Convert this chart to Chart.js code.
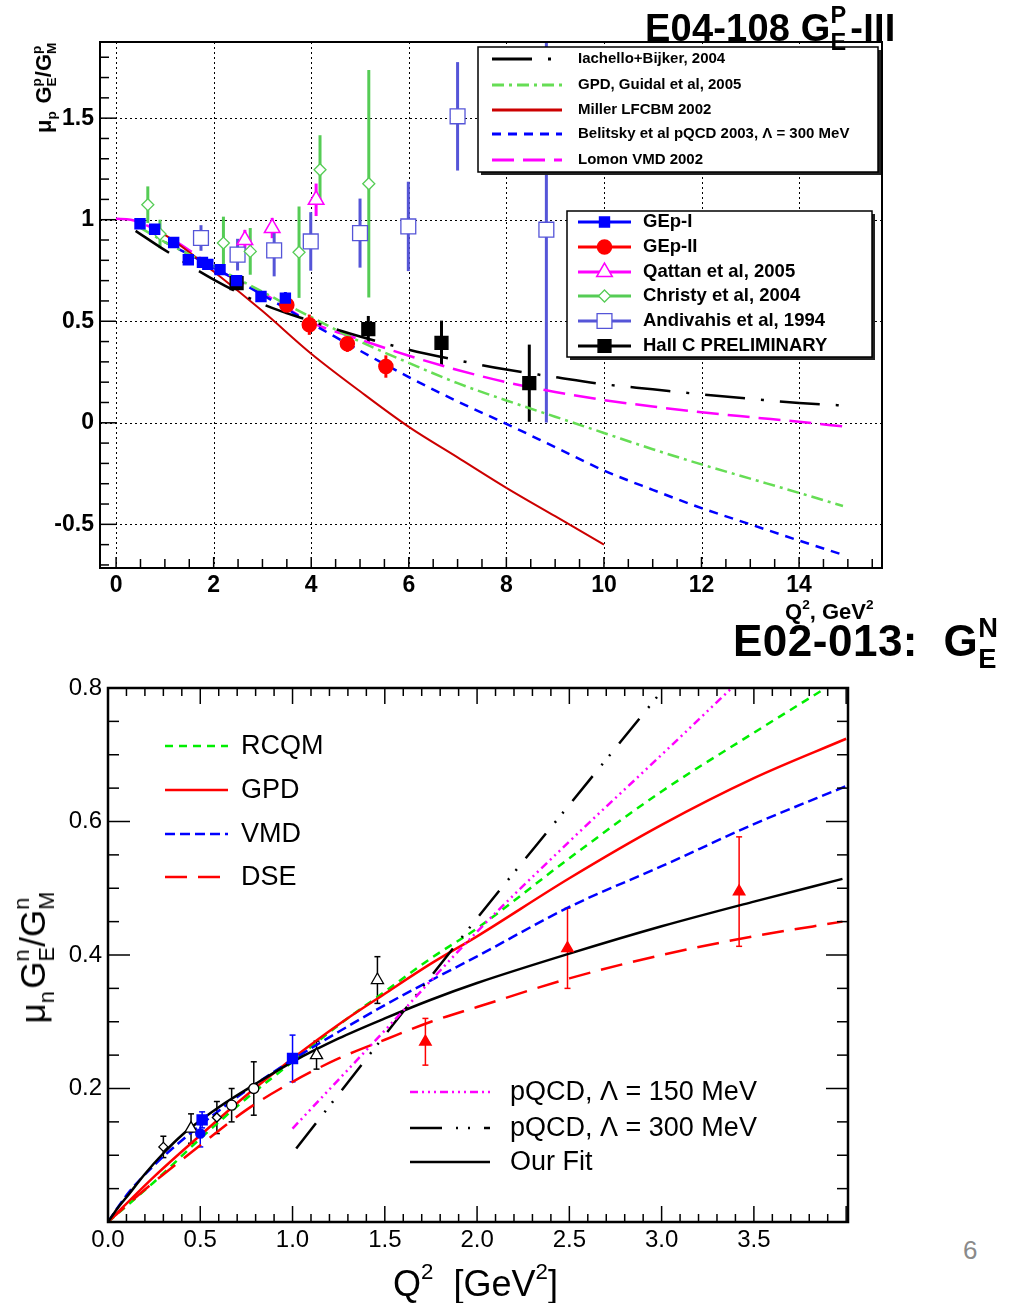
<!DOCTYPE html>
<html><head><meta charset="utf-8">
<script src="https://cdn.jsdelivr.net/npm/chart.js@4/dist/chart.umd.min.js"></script>
<style>
html,body{margin:0;padding:0;background:#fff}
body{width:1015px;height:1303px;position:relative;overflow:hidden;font-family:'Liberation Sans',Arial,Helvetica,sans-serif;color:#000}
canvas{position:absolute;left:0}
#c1{top:0}
#c2{top:650px}
.t{position:absolute;white-space:nowrap;line-height:1}
.rot{transform:translate(-50%,-50%) rotate(-90deg)}
.ss{display:inline-block;position:relative;height:0;vertical-align:baseline}
.ss .a,.ss .b{position:absolute;left:0;font-size:.62em;line-height:1}
.ss .a{top:-1.55em}
.ss .b{top:-.42em}
.up{font-size:.62em;position:relative;top:-.75em}
</style></head><body>
<canvas id="c1" width="900" height="610"></canvas>
<canvas id="c2" width="900" height="653"></canvas>

<div class="t" style="left:645px;top:7px;font:bold 38px 'Liberation Sans Narrow','Arial Narrow',sans-serif;letter-spacing:.2px">E04-108 G<span class="ss" style="width:.52em"><span class="a">P</span><span class="b">E</span></span>-III</div>
<div class="t" style="left:785px;top:599px;font:bold 22px 'Liberation Sans Narrow','Arial Narrow',sans-serif">Q<span class="up">2</span>, GeV<span class="up">2</span></div>
<div class="t" style="left:733px;top:616px;font:bold 44px 'Liberation Sans Narrow','Arial Narrow',sans-serif;letter-spacing:.5px">E02-013:&nbsp; G<span class="ss" style="width:.45em"><span class="a">N</span><span class="b">E</span></span></div>
<div class="t rot" style="left:44px;top:88px;font:bold 22px 'Liberation Sans',Arial,sans-serif">μ<span class="ss" style="width:.45em"><span class="b">p</span></span> G<span class="ss" style="width:.42em"><span class="a">p</span><span class="b">E</span></span>/G<span class="ss" style="width:.5em"><span class="a">p</span><span class="b">M</span></span></div>
<div class="t rot" style="left:33px;top:957px;font:35px 'Liberation Sans',Arial,sans-serif">μ<span class="ss" style="width:.42em"><span class="b">n</span></span>G<span class="ss" style="width:.42em"><span class="a">n</span><span class="b">E</span></span>/G<span class="ss" style="width:.55em"><span class="a">n</span><span class="b">M</span></span></div>
<div class="t" style="left:393px;top:1263px;font:36px 'Liberation Sans',Arial,sans-serif">Q<span class="up">2</span>&nbsp; [GeV<span class="up">2</span>]</div>
<div class="t" style="left:963px;top:1235px;font:26px 'Liberation Sans',Arial,sans-serif;color:#8a8a8a">6</div>

<script>
// ================= TOP PANEL : mu_p GEp/GMp =================
const topXTicks = [0, 2, 4, 6, 8, 10, 12, 14];
const topYTicks = [-0.5, 0, 0.5, 1, 1.5];

// theory curves
const iachelloQ2 = [0.4, 1, 2, 3, 4, 5, 6, 7, 8, 9, 10, 11, 12, 13, 14, 14.9];
const iachelloR  = [0.945, 0.85, 0.705, 0.585, 0.50, 0.425, 0.36, 0.308, 0.262, 0.225, 0.19, 0.165, 0.14, 0.118, 0.098, 0.085];
const guidalQ2 = [0.5, 1, 2, 3, 4, 5, 6, 7, 8, 9, 10, 11, 12, 13, 14, 14.9];
const guidalR  = [0.96, 0.89, 0.77, 0.645, 0.52, 0.40, 0.295, 0.195, 0.11, 0.03, -0.05, -0.13, -0.205, -0.275, -0.345, -0.41];
const millerQ2 = [0.7, 1, 2, 3, 4, 5, 6, 7, 8, 9, 10];
const millerR  = [0.96, 0.925, 0.745, 0.55, 0.34, 0.155, -0.02, -0.17, -0.32, -0.46, -0.60];
const belitskyQ2 = [1, 2, 3, 4, 5, 6, 7, 8, 9, 10, 11, 12, 13, 14, 14.9];
const belitskyR  = [0.89, 0.765, 0.63, 0.49, 0.355, 0.225, 0.105, -0.005, -0.12, -0.235, -0.33, -0.42, -0.50, -0.58, -0.65];
const lomonQ2 = [0, 0.3, 0.6, 1, 1.5, 2, 3, 4, 5, 6, 7, 8, 9, 10, 11, 12, 13, 14, 14.9];
const lomonR  = [1.005, 1.0, 0.975, 0.925, 0.85, 0.765, 0.64, 0.495, 0.41, 0.33, 0.26, 0.20, 0.152, 0.112, 0.08, 0.052, 0.028, 0.005, -0.018];

// data
const gep1Q2  = [0.49, 0.79, 1.18, 1.48, 1.77, 1.88, 2.13, 2.47, 2.97, 3.47];
const gep1R   = [0.98, 0.953, 0.888, 0.803, 0.79, 0.78, 0.754, 0.70, 0.622, 0.614];
const gep1Err = [0.012, 0.012, 0.015, 0.015, 0.02, 0.02, 0.02, 0.02, 0.025, 0.03];
const gep2Q2  = [3.50, 3.96, 4.74, 5.53];
const gep2R   = [0.58, 0.483, 0.389, 0.277];
const gep2Err = [0.045, 0.05, 0.04, 0.055];
const qattanQ2  = [2.64, 3.20, 4.10];
const qattanR   = [0.90, 0.959, 1.098];
const qattanErr = [0.05, 0.05, 0.08];
const christyQ2  = [0.65, 0.90, 2.20, 2.75, 3.75, 4.18, 5.18];
const christyR   = [1.074, 0.93, 0.885, 0.844, 0.84, 1.246, 1.177];
const christyErr = [0.09, 0.07, 0.13, 0.115, 0.225, 0.17, 0.56];
const andivahisQ2  = [1.74, 2.49, 3.24, 3.99, 5.00, 5.99, 7.00, 8.82];
const andivahisR   = [0.91, 0.828, 0.849, 0.893, 0.934, 0.967, 1.509, 0.951];
const andivahisErr = [0.063, 0.078, 0.128, 0.144, 0.17, 0.22, 0.267, 0.95];
const hallcQ2  = [2.47, 5.17, 6.67, 8.47];
const hallcR   = [0.688, 0.461, 0.393, 0.195];
const hallcErr = [0.012, 0.065, 0.11, 0.19];

// ================= BOTTOM PANEL : mu_n GEn/GMn =================
const botXTicks = [0, 0.5, 1, 1.5, 2, 2.5, 3, 3.5];
const botYTicks = [0.2, 0.4, 0.6, 0.8];

const rcqmQ2 = [0, 0.25, 0.5, 0.75, 1.0, 1.25, 1.5, 1.75, 2.0, 2.5, 3.0, 3.5, 3.89];
const rcqmR  = [0, 0.06, 0.125, 0.185, 0.24, 0.295, 0.345, 0.395, 0.44, 0.545, 0.645, 0.733, 0.80];
const gpdQ2 = [0, 0.25, 0.5, 0.75, 1.0, 1.25, 1.5, 1.75, 2.0, 2.5, 3.0, 3.5, 4.0];
const gpdR  = [0, 0.068, 0.13, 0.19, 0.245, 0.296, 0.342, 0.387, 0.428, 0.515, 0.595, 0.665, 0.724];
const vmdQ2 = [0, 0.1, 0.25, 0.5, 0.75, 1.0, 1.25, 1.5, 1.75, 2.0, 2.5, 3.0, 3.5, 4.0];
const vmdR  = [0, 0.04, 0.085, 0.145, 0.197, 0.243, 0.285, 0.325, 0.362, 0.398, 0.472, 0.533, 0.596, 0.653];
const dseQ2 = [0, 0.1, 0.25, 0.5, 0.75, 1.0, 1.25, 1.5, 1.75, 2.0, 2.5, 3.0, 3.5, 3.98];
const dseR  = [0, 0.025, 0.06, 0.115, 0.168, 0.21, 0.245, 0.273, 0.30, 0.322, 0.365, 0.40, 0.428, 0.45];
const pqcd150Q2 = [1.0, 1.5, 2.0, 2.5, 3.0, 3.38];
const pqcd150R  = [0.14, 0.287, 0.435, 0.57, 0.70, 0.80];
const pqcd300Q2 = [1.02, 1.5, 2.0, 2.5, 3.0];
const pqcd300R  = [0.11, 0.28, 0.455, 0.625, 0.795];
const fitQ2 = [0, 0.05, 0.1, 0.2, 0.3, 0.4, 0.5, 0.6, 0.8, 1.0, 1.25, 1.5, 1.75, 2.0, 2.5, 3.0, 3.5, 3.98];
const fitR  = [0, 0.02, 0.037, 0.072, 0.103, 0.13, 0.152, 0.172, 0.207, 0.24, 0.275, 0.305, 0.333, 0.358, 0.402, 0.443, 0.48, 0.514];

const worldQ2   = [0.30, 0.45, 0.59, 0.67, 0.79, 1.13, 1.46];
const worldR    = [0.1125, 0.14, 0.1565, 0.175, 0.20, 0.25, 0.3625];
const worldErr  = [0.016, 0.022, 0.024, 0.025, 0.04, 0.021, 0.035];
const worldSym  = ['rectRot', 'triangle', 'rectRot', 'circle', 'circle', 'triangle', 'triangle'];
const blueSqQ2  = [0.51, 1.00];
const blueSqR   = [0.153, 0.245];
const blueSqErr = [0.012, 0.035];
const blueCiQ2  = [0.50];
const blueCiR   = [0.1325];
const blueCiErr = [0.02];
const e02Q2  = [1.72, 2.49, 3.42];
const e02R   = [0.27, 0.41, 0.495];
const e02Err = [0.035, 0.06, 0.082];

// ================= helpers =================
Chart.defaults.font.family = "'Liberation Sans', Arial, sans-serif";
Chart.defaults.color = '#000';
function pts(xs, ys) { return xs.map((x, i) => ({ x: x, y: ys[i] })); }
function seg(ctx, x1, y1, x2, y2) { ctx.beginPath(); ctx.moveTo(x1, y1); ctx.lineTo(x2, y2); ctx.stroke(); }
function marker(ctx, style, x, y, r, fill, stroke, lw) {
  ctx.save(); ctx.setLineDash([]); ctx.beginPath();
  if (style === 'circle') ctx.arc(x, y, r, 0, Math.PI * 2);
  else if (style === 'rect') { const s = r * Math.SQRT1_2; ctx.rect(x - s, y - s, 2 * s, 2 * s); }
  else if (style === 'rectRot') { ctx.moveTo(x, y - r); ctx.lineTo(x + r, y); ctx.lineTo(x, y + r); ctx.lineTo(x - r, y); ctx.closePath(); }
  else if (style === 'triangle') {
    for (let k = 0; k < 3; k++) { const a = k * 2 * Math.PI / 3; const px = x + Math.sin(a) * r, py = y - Math.cos(a) * r; if (k) ctx.lineTo(px, py); else ctx.moveTo(px, py); }
    ctx.closePath();
  }
  if (fill) { ctx.fillStyle = fill; ctx.fill(); }
  if (stroke && lw) { ctx.strokeStyle = stroke; ctx.lineWidth = lw; ctx.stroke(); }
  ctx.restore();
}
function dataSet(label, xs, ys, err, o) {
  return { label: label, data: pts(xs, ys), showLine: false, errY: err, pointBorderWidth: o.lw || 1.5,
    pointBackgroundColor: o.fill, pointBorderColor: o.color, borderColor: o.color, backgroundColor: o.fill,
    pointStyle: o.style, pointRadius: o.r, pointHoverRadius: o.r, errColor: o.color, errWidth: o.ew, errCap: o.cap || 0 };
}
function curve(label, xs, ys, color, width, dash) {
  return { label: label, data: pts(xs, ys), showLine: true, borderColor: color, backgroundColor: color,
    borderWidth: width, borderDash: dash, pointRadius: 0, pointHoverRadius: 0, fill: false, cubicInterpolationMode: 'monotone' };
}

const panelPlugin = {
  id: 'panel',
  beforeDatasetsDraw(chart, args, o) {
    const ctx = chart.ctx, a = chart.chartArea, xs = chart.scales.x, ys = chart.scales.y;
    ctx.save();
    if (o.grid) {
      ctx.strokeStyle = '#000'; ctx.lineWidth = 1; ctx.setLineDash(o.grid.dash);
      o.grid.x.forEach(v => { const p = Math.round(xs.getPixelForValue(v)) + 0.5; seg(ctx, p, a.top, p, a.bottom); });
      o.grid.y.forEach(v => { const p = Math.round(ys.getPixelForValue(v)) + 0.5; seg(ctx, a.left, p, a.right, p); });
      ctx.setLineDash([]);
    }
    ctx.beginPath(); ctx.rect(a.left, a.top, a.right - a.left, a.bottom - a.top); ctx.clip();
    chart.data.datasets.forEach(ds => {
      if (!ds.errY) return;
      ctx.strokeStyle = ds.errColor; ctx.lineWidth = ds.errWidth;
      ds.data.forEach((p, i) => {
        const px = xs.getPixelForValue(p.x);
        const y1 = ys.getPixelForValue(p.y + ds.errY[i]), y2 = ys.getPixelForValue(p.y - ds.errY[i]);
        seg(ctx, px, y1, px, y2);
        if (ds.errCap) { seg(ctx, px - ds.errCap, y1, px + ds.errCap, y1); seg(ctx, px - ds.errCap, y2, px + ds.errCap, y2); }
      });
    });
    ctx.restore();
  },
  afterDraw(chart, args, o) {
    const ctx = chart.ctx, a = chart.chartArea;
    ctx.save();
    ctx.strokeStyle = '#000'; ctx.lineWidth = o.tickWidth || 1.5;
    (o.ticks || []).forEach(t => {
      const sc = chart.scales[t.axis];
      for (let i = Math.ceil(t.from / t.minor - 1e-9); i * t.minor <= t.to + 1e-9; i++) {
        const v = i * t.minor;
        const maj = Math.abs(v / t.major - Math.round(v / t.major)) < 1e-6;
        const L = maj ? t.lenMaj : t.lenMin;
        const p = sc.getPixelForValue(v);
        if (t.side === 'left') seg(ctx, a.left, p, a.left + L, p);
        else if (t.side === 'right') seg(ctx, a.right, p, a.right - L, p);
        else if (t.side === 'bottom') seg(ctx, p, a.bottom, p, a.bottom - L);
        else seg(ctx, p, a.top, p, a.top + L);
      }
    });
    ctx.lineWidth = o.frameWidth || 2; ctx.strokeStyle = '#000';
    ctx.strokeRect(a.left, a.top, a.right - a.left, a.bottom - a.top);
    (o.legends || []).forEach(L => {
      if (L.box) {
        const b = L.box;
        ctx.fillStyle = '#222'; ctx.fillRect(b.x + 3, b.y + 3, b.w, b.h);
        ctx.fillStyle = '#fff'; ctx.fillRect(b.x, b.y, b.w, b.h);
        ctx.strokeStyle = '#000'; ctx.lineWidth = 1.5; ctx.strokeRect(b.x, b.y, b.w, b.h);
      }
      L.items.forEach(it => {
        const ds = chart.data.datasets.find(d => d.label === it.ds);
        ctx.save();
        ctx.strokeStyle = ds.borderColor; ctx.lineWidth = L.lineWidth || ds.borderWidth || 2;
        ctx.setLineDash(L.marker ? [] : (ds.borderDash || []));
        seg(ctx, L.x0, it.y, L.x1, it.y);
        ctx.restore();
        if (L.marker) marker(ctx, ds.pointStyle, (L.x0 + L.x1) / 2, it.y, ds.pointRadius, ds.pointBackgroundColor, ds.pointBorderColor, ds.pointBorderWidth);
        ctx.fillStyle = '#000'; ctx.font = L.font; ctx.textBaseline = 'middle'; ctx.textAlign = 'left';
        ctx.fillText(it.label, L.tx, it.y + (L.dy || 0));
      });
    });
    ctx.restore();
  }
};

// ================= TOP CHART =================
const topDatasets = [
  dataSet('GEp-I', gep1Q2, gep1R, gep1Err, { color: '#0000ff', fill: '#0000ff', style: 'rect', r: 7, ew: 3 }),
  dataSet('GEp-II', gep2Q2, gep2R, gep2Err, { color: '#ff0000', fill: '#ff0000', style: 'circle', r: 7, ew: 3 }),
  dataSet('Qattan et al, 2005', qattanQ2, qattanR, qattanErr, { color: '#ff00ff', fill: '#ffffff', style: 'triangle', r: 9, ew: 3, lw: 1.5 }),
  dataSet('Christy et al, 2004', christyQ2, christyR, christyErr, { color: '#55cc55', fill: '#ffffff', style: 'rectRot', r: 6, ew: 3, lw: 1.3 }),
  dataSet('Andivahis et al, 1994', andivahisQ2, andivahisR, andivahisErr, { color: '#5555d8', fill: '#ffffff', style: 'rect', r: 10.5, ew: 3, lw: 1.3 }),
  dataSet('Hall C PRELIMINARY', hallcQ2, hallcR, hallcErr, { color: '#000000', fill: '#000000', style: 'rect', r: 9, ew: 3 }),
  curve('Iachello+Bijker, 2004', iachelloQ2, iachelloR, '#000000', 2.5, [40, 16, 3, 16]),
  curve('GPD, Guidal et al, 2005', guidalQ2, guidalR, '#66dd55', 2.5, [12, 5, 3, 5]),
  curve('Miller LFCBM 2002', millerQ2, millerR, '#cc0000', 2, []),
  curve('Belitsky et al pQCD 2003, Λ = 300 MeV', belitskyQ2, belitskyR, '#0000ff', 2.5, [9, 7]),
  curve('Lomon VMD 2002', lomonQ2, lomonR, '#ff00ff', 2.5, [22, 9])
];

new Chart(document.getElementById('c1'), {
  type: 'scatter',
  data: { datasets: topDatasets },
  plugins: [panelPlugin],
  options: {
    responsive: false, animation: false, events: [],
    layout: { padding: { top: 42, right: 18, left: 0, bottom: 0 } },
    plugins: {
      legend: { display: false }, tooltip: { enabled: false }, title: { display: false },
      panel: {
        grid: { dash: [2, 3], x: topXTicks, y: topYTicks },
        tickWidth: 1.5, frameWidth: 2,
        ticks: [
          { axis: 'y', side: 'left', from: -0.7, to: 1.87, minor: 0.1, major: 0.5, lenMaj: 16, lenMin: 9 },
          { axis: 'x', side: 'bottom', from: -0.3, to: 15.7, minor: 0.5, major: 2, lenMaj: 11, lenMin: 9 }
        ],
        legends: [
          { box: { x: 478, y: 47, w: 400, h: 125 }, x0: 492, x1: 562, tx: 578, font: 'bold 15px "Liberation Sans", Arial, sans-serif', lineWidth: 3,
            items: [
              { ds: 'Iachello+Bijker, 2004', label: 'Iachello+Bijker, 2004', y: 59 },
              { ds: 'GPD, Guidal et al, 2005', label: 'GPD, Guidal et al, 2005', y: 85 },
              { ds: 'Miller LFCBM 2002', label: 'Miller LFCBM 2002', y: 110 },
              { ds: 'Belitsky et al pQCD 2003, Λ = 300 MeV', label: 'Belitsky et al pQCD 2003, Λ = 300 MeV', y: 134 },
              { ds: 'Lomon VMD 2002', label: 'Lomon VMD 2002', y: 160 }
            ] },
          { box: { x: 567, y: 211, w: 305, h: 146 }, x0: 578, x1: 631, tx: 643, font: 'bold 18.5px "Liberation Sans", Arial, sans-serif', lineWidth: 3, marker: true,
            items: [
              { ds: 'GEp-I', label: 'GEp-I', y: 222 },
              { ds: 'GEp-II', label: 'GEp-II', y: 247 },
              { ds: 'Qattan et al, 2005', label: 'Qattan et al, 2005', y: 272 },
              { ds: 'Christy et al, 2004', label: 'Christy et al, 2004', y: 296 },
              { ds: 'Andivahis et al, 1994', label: 'Andivahis et al, 1994', y: 321 },
              { ds: 'Hall C PRELIMINARY', label: 'Hall C PRELIMINARY', y: 346 }
            ] }
        ]
      }
    },
    scales: {
      x: { type: 'linear', min: -0.33, max: 15.7,
        afterBuildTicks: s => { s.ticks = topXTicks.map(v => ({ value: v })); },
        afterFit: s => { s.height = 42; },
        grid: { display: false, drawTicks: false }, border: { display: false },
        ticks: { autoSkip: false, maxRotation: 0, padding: 4, color: '#000', font: { size: 23, weight: 'bold' }, callback: v => String(v) } },
      y: { type: 'linear', min: -0.715, max: 1.875,
        afterBuildTicks: s => { s.ticks = topYTicks.map(v => ({ value: v })); },
        afterFit: s => { s.width = 100; },
        grid: { display: false, drawTicks: false }, border: { display: false },
        ticks: { autoSkip: false, padding: 6, color: '#000', font: { size: 23, weight: 'bold' }, callback: v => String(v) } }
    }
  }
});

// ================= BOTTOM CHART =================
const botDatasets = [
  dataSet('E02-013', e02Q2, e02R, e02Err, { color: '#ff0000', fill: '#ff0000', style: 'triangle', r: 6.5, ew: 1.5, cap: 3 }),
  dataSet('blue squares', blueSqQ2, blueSqR, blueSqErr, { color: '#0000ff', fill: '#0000ff', style: 'rect', r: 7, ew: 1.5, cap: 3 }),
  dataSet('blue circle', blueCiQ2, blueCiR, blueCiErr, { color: '#0000ff', fill: '#0000ff', style: 'circle', r: 4.5, ew: 1.5, cap: 3 }),
  dataSet('world data', worldQ2, worldR, worldErr, { color: '#000000', fill: '#ffffff', style: worldSym, r: [4.5, 7, 4.5, 5, 5, 7, 7], ew: 1.5, cap: 3, lw: 1.3 }),
  curve('pQCD, Λ = 150 MeV', pqcd150Q2, pqcd150R, '#ff00ff', 2.5, [8, 4, 2, 4, 2, 4, 2, 4]),
  curve('pQCD, Λ = 300 MeV', pqcd300Q2, pqcd300R, '#000000', 2.5, [32, 14, 2, 10, 2, 14]),
  curve('Our Fit', fitQ2, fitR, '#000000', 2.5, []),
  curve('DSE', dseQ2, dseR, '#ff0000', 2.5, [22, 11]),
  curve('VMD', vmdQ2, vmdR, '#0000ff', 2.5, [10, 5]),
  curve('GPD', gpdQ2, gpdR, '#ff0000', 2.5, []),
  curve('RCQM', rcqmQ2, rcqmR, '#00ee00', 2.5, [8, 6])
];

new Chart(document.getElementById('c2'), {
  type: 'scatter',
  data: { datasets: botDatasets },
  plugins: [panelPlugin],
  options: {
    responsive: false, animation: false, events: [],
    layout: { padding: { top: 38, right: 52, left: 0, bottom: 0 } },
    plugins: {
      legend: { display: false }, tooltip: { enabled: false }, title: { display: false },
      panel: {
        tickWidth: 1.5, frameWidth: 2.5,
        ticks: [
          { axis: 'y', side: 'left', from: 0, to: 0.8, minor: 0.05, major: 0.2, lenMaj: 22, lenMin: 11 },
          { axis: 'y', side: 'right', from: 0, to: 0.8, minor: 0.05, major: 0.2, lenMaj: 22, lenMin: 11 },
          { axis: 'x', side: 'bottom', from: 0, to: 4.0, minor: 0.1, major: 0.5, lenMaj: 16, lenMin: 8 },
          { axis: 'x', side: 'top', from: 0, to: 4.0, minor: 0.1, major: 0.5, lenMaj: 16, lenMin: 8 }
        ],
        legends: [
          { x0: 165, x1: 228, tx: 241, dy: 1, font: '27px "Liberation Sans", Arial, sans-serif',
            items: [
              { ds: 'RCQM', label: 'RCQM', y: 96 },
              { ds: 'GPD', label: 'GPD', y: 140 },
              { ds: 'VMD', label: 'VMD', y: 184 },
              { ds: 'DSE', label: 'DSE', y: 227 }
            ] },
          { x0: 410, x1: 490, tx: 510, dy: 1, font: '27px "Liberation Sans", Arial, sans-serif',
            items: [
              { ds: 'pQCD, Λ = 150 MeV', label: 'pQCD, Λ = 150 MeV', y: 442 },
              { ds: 'pQCD, Λ = 300 MeV', label: 'pQCD, Λ = 300 MeV', y: 478 },
              { ds: 'Our Fit', label: 'Our Fit', y: 512 }
            ] }
        ]
      }
    },
    scales: {
      x: { type: 'linear', min: 0, max: 4.01,
        afterBuildTicks: s => { s.ticks = botXTicks.map(v => ({ value: v })); },
        afterFit: s => { s.height = 81; },
        grid: { display: false, drawTicks: false }, border: { display: false },
        ticks: { autoSkip: false, maxRotation: 0, padding: 4, color: '#000', font: { size: 24 }, callback: v => v.toFixed(1) } },
      y: { type: 'linear', min: 0, max: 0.8,
        afterBuildTicks: s => { s.ticks = botYTicks.map(v => ({ value: v })); },
        afterFit: s => { s.width = 108; },
        grid: { display: false, drawTicks: false }, border: { display: false },
        ticks: { autoSkip: false, padding: 6, color: '#000', font: { size: 24 }, callback: v => v.toFixed(1) } }
    }
  }
});
</script>
</body></html>
